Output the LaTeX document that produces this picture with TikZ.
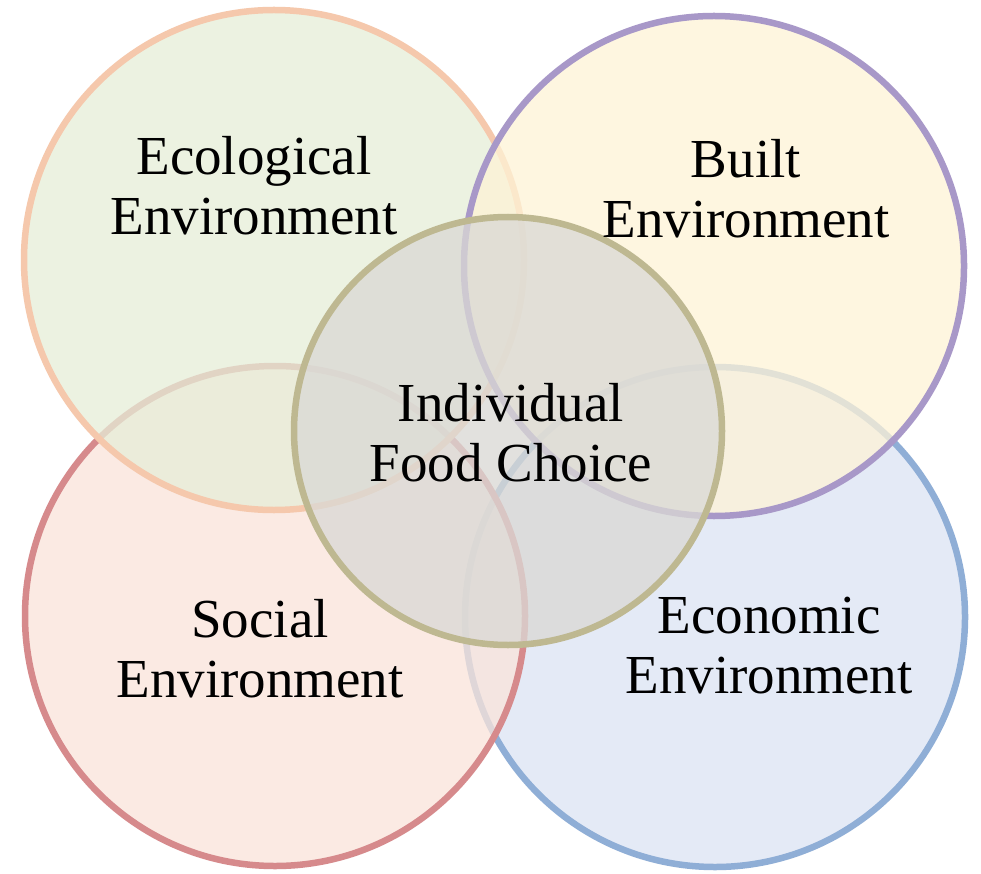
\documentclass[tikz,border=0pt]{standalone}
\usepackage{fontspec}
\setmainfont{Liberation Serif}
\usepackage{tikz}
\usepackage{xcolor}

\definecolor{ecoFill}{RGB}{230,238,216}
\definecolor{ecoLine}{RGB}{245,200,172}
\definecolor{builtFill}{RGB}{254,243,214}
\definecolor{builtLine}{RGB}{168,152,200}
\definecolor{socFill}{RGB}{250,228,218}
\definecolor{socLine}{RGB}{214,138,140}
\definecolor{econFill}{RGB}{220,228,243}
\definecolor{econLine}{RGB}{143,174,214}
\definecolor{foodFill}{RGB}{218,217,213}
\definecolor{foodLine}{RGB}{190,184,145}

\begin{document}
\begin{tikzpicture}[x=1pt, y=-1pt,
  ring/.style 2 args={circle, draw=#1, fill=#2, fill opacity=0.75,
    line width=6.5pt, minimum size=500pt, inner sep=0pt},
  lbl/.style={font=\fontsize{55}{60}\selectfont, align=center, inner sep=0pt}]
% Page
\fill[white] (0,0) rectangle (981,874);
\useasboundingbox (0,0) rectangle (981,874);

% Outer circles, bottom one first
\node[ring={econLine}{econFill}] (econ) at (715,617) {};
\node[ring={socLine}{socFill}] (soc) at (275,616) {};
\node[ring={ecoLine}{ecoFill}] (eco) at (274,260) {};
\node[ring={builtLine}{builtFill}] (built) at (714,266) {};

% Centre circle
\node[ring={foodLine}{foodFill}, fill opacity=0.77, minimum size=428pt] (food) at (508,431) {};

% Labels
\node[lbl] (ecoText) at (254,186) {Ecological\\Environment};
\node[lbl] (builtText) at (746,189) {Built\\Environment};
\node[lbl] (socText) at (260,649) {Social\\Environment};
\node[lbl] (econText) at (769,646) {Economic\\Environment};
\node[lbl] (foodText) at (511,433) {Individual\\Food Choice};
\end{tikzpicture}
\end{document}
